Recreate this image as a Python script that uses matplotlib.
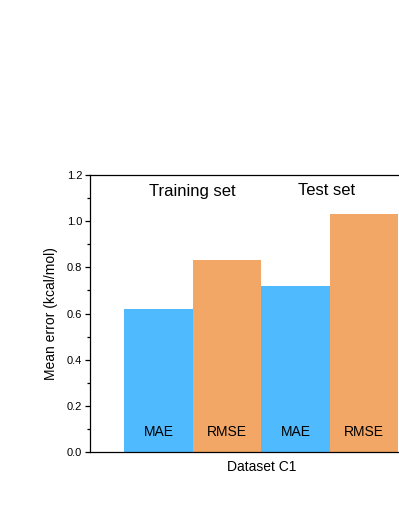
import matplotlib
matplotlib.use("Agg")
import matplotlib.pyplot as plt
from matplotlib.ticker import MultipleLocator

plt.rcParams["font.family"] = ["Liberation Sans", "DejaVu Sans"]

# values
metrics = ["MAE", "RMSE", "MAE", "RMSE"]
errors = [0.62, 0.83, 0.72, 1.03]
groups = ["Training set", "Test set"]
group_x = [0.49, 2.45]
group_y = [1.128, 1.135]

BLUE = "#50BAFF"
ORANGE = "#F3A766"
colors = [BLUE, ORANGE, BLUE, ORANGE]

fig = plt.figure(figsize=(3.99, 5.16), dpi=100)
# axes runs off the right edge of the canvas, like the cropped original
ax = fig.add_axes([90 / 399, 64 / 516, 342.5 / 399, 277 / 516])

xs = list(range(len(errors)))
ax.bar(xs, errors, width=1.0, color=colors, linewidth=0)

for x, m in zip(xs, metrics):
    ax.text(x, 0.088, m, ha="center", va="center", fontsize=10)
for x, y, g in zip(group_x, group_y, groups):
    ax.text(x, y, g, ha="center", va="center", fontsize=12)

ax.set_xlim(-1.0, 4.0)
ax.set_ylim(0, 1.2)
ax.yaxis.set_major_locator(MultipleLocator(0.2))
ax.yaxis.set_minor_locator(MultipleLocator(0.1))
ax.set_xticks([])
ax.tick_params(axis="y", which="major", direction="out", length=3.6, width=0.9, labelsize=8, pad=2)
ax.tick_params(axis="y", which="minor", direction="out", length=2, width=0.9)
ax.yaxis.set_major_formatter(plt.FuncFormatter(lambda v, p: f"{v:.1f}"))
for s in ax.spines.values():
    s.set_linewidth(0.9)

ax.set_ylabel("Mean error (kcal/mol)", fontsize=10, labelpad=6)
ax.set_xlabel("Dataset C1", fontsize=10, labelpad=6)

fig.savefig("out.png", dpi=100)
